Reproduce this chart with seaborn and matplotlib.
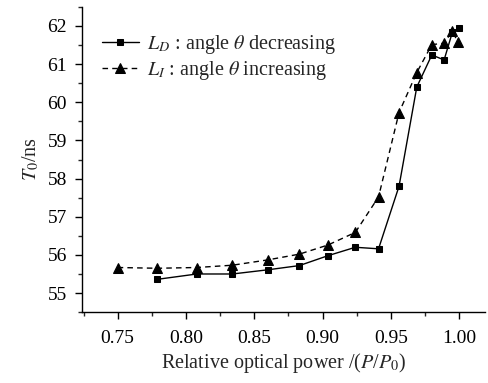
import numpy as np
import pandas as pd
import matplotlib
matplotlib.use('Agg')
import matplotlib.pyplot as plt
import seaborn as sns
from matplotlib.ticker import MultipleLocator

# data
x_dec = [0.779, 0.808, 0.834, 0.860, 0.883, 0.904, 0.924, 0.941, 0.956, 0.969, 0.980, 0.989, 0.995, 1.000]
t_dec = [55.36, 55.50, 55.50, 55.61, 55.72, 55.98, 56.20, 56.16, 57.80, 60.40, 61.24, 61.11, 61.83, 61.94]

x_inc = [0.750, 0.779, 0.808, 0.834, 0.860, 0.883, 0.904, 0.924, 0.941, 0.956, 0.969, 0.980, 0.989, 0.995, 0.999]
t_inc = [55.67, 55.65, 55.67, 55.73, 55.87, 56.02, 56.26, 56.59, 57.52, 59.73, 60.78, 61.51, 61.55, 61.86, 61.59]

lab_dec = r'$L_D$ : angle $\theta$ decreasing'
lab_inc = r'$L_I$ : angle $\theta$ increasing'

sns.set_style('ticks')
plt.rcParams['font.family'] = ['Liberation Serif', 'DejaVu Serif']
plt.rcParams['mathtext.fontset'] = 'stix'
plt.rcParams['font.size'] = 14

fig = plt.figure(figsize=(4.89, 3.83), dpi=100)
ax = fig.add_axes([0.168, 0.185, 0.824, 0.797])

df_dec = pd.DataFrame({'x': x_dec, 't': t_dec})
df_inc = pd.DataFrame({'x': x_inc, 't': t_inc})

sns.lineplot(data=df_dec, x='x', y='t', ax=ax, color='black', lw=1.0,
             marker='s', markersize=5, markeredgecolor='black',
             estimator=None, sort=False, label=lab_dec)
sns.lineplot(data=df_inc, x='x', y='t', ax=ax, color='black', lw=1.0,
             linestyle=(0, (4, 3)), marker='^', markersize=6.5, markeredgecolor='black',
             estimator=None, sort=False, label=lab_inc)

ax.set_xlim(0.724, 1.019)
ax.set_ylim(54.5, 62.5)
ax.xaxis.set_major_locator(MultipleLocator(0.05))
ax.xaxis.set_minor_locator(MultipleLocator(0.025))
ax.yaxis.set_major_locator(MultipleLocator(1))
ax.yaxis.set_minor_locator(MultipleLocator(0.5))
ax.xaxis.set_major_formatter(matplotlib.ticker.FormatStrFormatter('%.2f'))
ax.tick_params(which='major', length=5, width=1, labelsize=14, colors='black')
ax.tick_params(which='minor', length=3, width=1)
ax.tick_params(axis='x', which='major', pad=8)
ax.tick_params(axis='y', which='major', pad=6)

sns.despine(ax=ax)
for s in ['left', 'bottom']:
    ax.spines[s].set_color('black')
    ax.spines[s].set_linewidth(1)

ax.set_xlabel(r'Relative optical power /($P$/$P_0$)', fontsize=14.5, labelpad=3)
ax.set_ylabel(r'$T_0$/ns', fontsize=14.5, labelpad=4)

ax.legend(loc='upper left', bbox_to_anchor=(0.02, 0.955), frameon=False, fontsize=14.5,
          handlelength=1.8, handletextpad=0.4, labelspacing=0.15, borderaxespad=0.2)

fig.savefig('out.png', dpi=100)
